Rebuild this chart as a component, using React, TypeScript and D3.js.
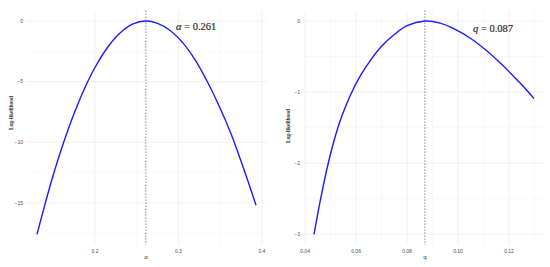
import React from 'react';
import * as d3 from 'd3';

// left panel: profile log-likelihood in alpha
const alphaGrid = [0.1305, 0.141, 0.15, 0.162, 0.175, 0.189, 0.2, 0.215, 0.23, 0.245, 0.261, 0.275, 0.29, 0.305, 0.32, 0.335, 0.35, 0.363, 0.378, 0.393];
const alphaLL = [-17.6, -14.9, -12.7, -10.1, -7.62, -5.34, -3.83, -2.18, -0.99, -0.26, 0, -0.19, -0.78, -1.78, -3.2, -5.05, -7.2, -9.3, -12.15, -15.2];
const alphaHat = 0.261;
const alphaTicks = [0.2, 0.3, 0.4];
const alphaMinor = [0.15, 0.25, 0.35];
const alphaLLTicks = [0, -5, -10, -15];
const alphaLLMinor = [-2.5, -7.5, -12.5, -17.5];

// right panel: profile log-likelihood in q
const qGrid = [0.0435, 0.046, 0.0487, 0.051, 0.0535, 0.056, 0.0586, 0.062, 0.066, 0.07, 0.075, 0.08, 0.087, 0.093, 0.0985, 0.105, 0.111, 0.117, 0.122, 0.126, 0.1298];
const qLL = [-3.0, -2.52, -2.06, -1.73, -1.43, -1.19, -0.98, -0.75, -0.535, -0.355, -0.19, -0.065, 0, -0.03, -0.11, -0.245, -0.41, -0.605, -0.785, -0.935, -1.09];
const qHat = 0.087;
const qTicks = [0.04, 0.06, 0.08, 0.1, 0.12];
const qMinor = [0.05, 0.07, 0.09, 0.11, 0.13];
const qLLTicks = [0, -1, -2, -3];
const qLLMinor = [-0.5, -1.5, -2.5];

const expand = (vals: number[]) => {
  const [lo, hi] = d3.extent(vals) as [number, number];
  const pad = (hi - lo) * 0.05;
  return [lo - pad, hi + pad];
};

const fmtY = (v: number) => (v < 0 ? '\u2212' + Math.abs(v) : String(v));

type PanelProps = {
  xs: number[];
  ys: number[];
  hat: number;
  xTicks: number[];
  xMinor: number[];
  yTicks: number[];
  yMinor: number[];
  xFmt: (v: number) => string;
  left: number;
  right: number;
  titleY: number;
  xTitle: string;
  label: React.ReactNode;
  labelX: number;
  labelY: number;
};

const Panel = (p: PanelProps) => {
  const top = 10.4;
  const bottom = 245;
  const x = d3.scaleLinear().domain(expand(p.xs)).range([p.left, p.right]);
  const y = d3.scaleLinear().domain(expand(p.ys)).range([bottom, top]);
  const pts = p.xs.map((v, i) => [v, p.ys[i]] as [number, number]);
  const line = d3
    .line<[number, number]>()
    .x((d) => x(d[0]))
    .y((d) => y(d[1]))
    .curve(d3.curveCatmullRom.alpha(0.5));
  return (
    <g>
      {/* minor grid */}
      {p.xMinor.map((v) => (
        <line key={'xm' + v} x1={x(v)} x2={x(v)} y1={top} y2={bottom} stroke="#f2f2f2" strokeWidth={0.5} />
      ))}
      {p.yMinor.map((v) => (
        <line key={'ym' + v} x1={p.left} x2={p.right} y1={y(v)} y2={y(v)} stroke="#f2f2f2" strokeWidth={0.5} />
      ))}
      {/* major grid */}
      {p.xTicks.map((v) => (
        <line key={'xg' + v} x1={x(v)} x2={x(v)} y1={top} y2={bottom} stroke="#ebebeb" strokeWidth={0.7} />
      ))}
      {p.yTicks.map((v) => (
        <line key={'yg' + v} x1={p.left} x2={p.right} y1={y(v)} y2={y(v)} stroke="#ebebeb" strokeWidth={0.7} />
      ))}
      {/* MLE marker */}
      <line x1={x(p.hat)} x2={x(p.hat)} y1={top} y2={bottom} stroke="#555" strokeWidth={0.7} strokeDasharray="1.5,1.5" />
      <path d={line(pts) || ''} fill="none" stroke="#1a1aff" strokeWidth={1.4} />
      {/* tick labels */}
      {p.xTicks.map((v) => (
        <text key={'xt' + v} x={x(v)} y={252.5} fontSize={5} fill="#4d4d4d" textAnchor="middle" fontFamily="'Liberation Sans', sans-serif">
          {p.xFmt(v)}
        </text>
      ))}
      {p.yTicks.map((v) => (
        <text key={'yt' + v} x={p.left - 3} y={y(v) + 1.8} fontSize={5} fill="#4d4d4d" textAnchor="end" fontFamily="'Liberation Sans', sans-serif">
          {fmtY(v)}
        </text>
      ))}
      <text x={x(p.hat)} y={259} fontSize={6} fill="#333" textAnchor="middle" fontFamily="'Liberation Sans', sans-serif">
        {p.xTitle}
      </text>
      <text
        transform={`translate(${p.left - 13},${p.titleY}) rotate(-90)`}
        fontSize={5.5}
        fill="#333"
        fontWeight="bold"
        textAnchor="middle"
        fontFamily="'Liberation Serif', serif"
      >
        Log-likelihood
      </text>
      <text x={p.labelX} y={p.labelY} fontSize={10.5} fill="#222" stroke="#222" strokeWidth={0.15} style={{ fontFamily: "'Liberation Serif', 'DejaVu Serif', serif" }}>
        {p.label}
      </text>
    </g>
  );
};

export default function App() {
  return (
    <svg width={550} height={267} style={{ position: 'absolute', left: 0, top: 0, background: '#fff' }}>
      <Panel
        xs={alphaGrid}
        ys={alphaLL}
        hat={alphaHat}
        xTicks={alphaTicks}
        xMinor={alphaMinor}
        yTicks={alphaLLTicks}
        yMinor={alphaLLMinor}
        xFmt={(v) => d3.format('.1f')(v)}
        left={26}
        right={267}
        titleY={113}
        xTitle="α"
        label={
          <>
            <tspan fontStyle="italic">α</tspan> = 0.261
          </>
        }
        labelX={176}
        labelY={30}
      />
      <Panel
        xs={qGrid}
        ys={qLL}
        hat={qHat}
        xTicks={qTicks}
        xMinor={qMinor}
        yTicks={qLLTicks}
        yMinor={qLLMinor}
        xFmt={(v) => d3.format('.2f')(v)}
        left={303}
        right={545}
        titleY={126}
        xTitle="q"
        label={
          <>
            <tspan fontStyle="italic">q</tspan> = 0.087
          </>
        }
        labelX={473}
        labelY={32}
      />
    </svg>
  );
}
